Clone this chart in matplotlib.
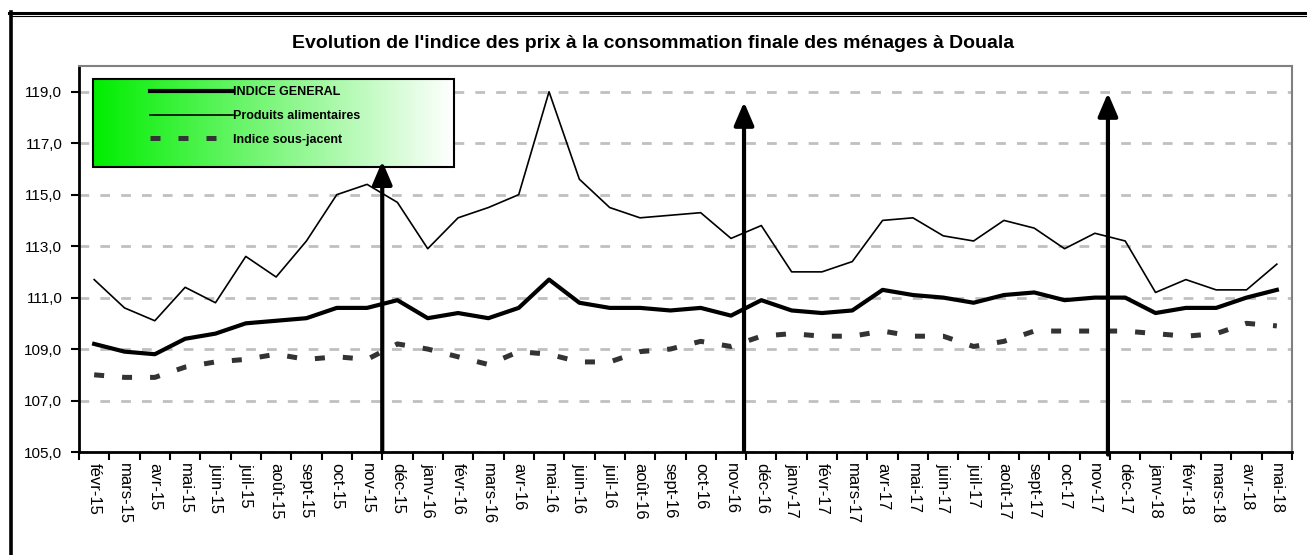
import numpy as np
import matplotlib as mpl
mpl.use('Agg')
import matplotlib.pyplot as plt
from matplotlib.colors import LinearSegmentedColormap
from matplotlib.patches import Rectangle
from matplotlib.lines import Line2D
from matplotlib.ticker import FixedLocator, FuncFormatter

plt.rcParams['font.family'] = ['Liberation Sans', 'DejaVu Sans']

# ----------------------------------------------------------------------
# --- data

months = ['févr-15', 'mars-15', 'avr-15', 'mai-15', 'juin-15', 'juil-15', 'août-15', 'sept-15',
          'oct-15', 'nov-15', 'déc-15', 'janv-16', 'févr-16', 'mars-16', 'avr-16', 'mai-16',
          'juin-16', 'juil-16', 'août-16', 'sept-16', 'oct-16', 'nov-16', 'déc-16', 'janv-17',
          'févr-17', 'mars-17', 'avr-17', 'mai-17', 'juin-17', 'juil-17', 'août-17', 'sept-17',
          'oct-17', 'nov-17', 'déc-17', 'janv-18', 'févr-18', 'mars-18', 'avr-18', 'mai-18']

indice_general = [109.2, 108.9, 108.8, 109.4, 109.6, 110.0, 110.1, 110.2, 110.6, 110.6,
                  110.9, 110.2, 110.4, 110.2, 110.6, 111.7, 110.8, 110.6, 110.6, 110.5,
                  110.6, 110.3, 110.9, 110.5, 110.4, 110.5, 111.3, 111.1, 111.0, 110.8,
                  111.1, 111.2, 110.9, 111.0, 111.0, 110.4, 110.6, 110.6, 111.0, 111.3]

produits_alimentaires = [111.7, 110.6, 110.1, 111.4, 110.8, 112.6, 111.8, 113.2, 115.0, 115.4,
                         114.7, 112.9, 114.1, 114.5, 115.0, 119.0, 115.6, 114.5, 114.1, 114.2,
                         114.3, 113.3, 113.8, 112.0, 112.0, 112.4, 114.0, 114.1, 113.4, 113.2,
                         114.0, 113.7, 112.9, 113.5, 113.2, 111.2, 111.7, 111.3, 111.3, 112.3]

indice_sous_jacent = [108.0, 107.9, 107.9, 108.3, 108.5, 108.6, 108.8, 108.6, 108.7, 108.6,
                      109.2, 109.0, 108.7, 108.4, 108.9, 108.8, 108.5, 108.5, 108.9, 109.0,
                      109.3, 109.1, 109.5, 109.6, 109.5, 109.5, 109.7, 109.5, 109.5, 109.1,
                      109.3, 109.7, 109.7, 109.7, 109.7, 109.6, 109.5, 109.6, 110.0, 109.9]

# arrows marking the turn of each year (category position, bottom, tip)
arrow_x = [9.5, 21.43, 33.43]
arrow_base = [105.0, 105.05, 104.9]
arrow_tip = [116.3, 118.6, 118.95]

title = "Evolution de l'indice des prix à la consommation finale des ménages à Douala"

# ----------------------------------------------------------------------

W, H = 1307, 555
fig = plt.figure(figsize=(W / 100, H / 100), dpi=100)
ax = fig.add_axes([79 / W, 1 - 452 / H, (1292 - 79) / W, (452 - 66) / H])

x = np.arange(len(months))

ax.plot(x, indice_general, color='black', lw=3.0, label='INDICE GENERAL', zorder=3)
ax.plot(x, produits_alimentaires, color='black', lw=1.2, label='Produits alimentaires', zorder=3)
ax.plot(x, indice_sous_jacent, color='#333333', lw=3.6, dashes=(2.0, 3.6), dash_capstyle='butt',
        label='Indice sous-jacent', zorder=2)

for xa, y0, y1 in zip(arrow_x, arrow_base, arrow_tip):
    ax.annotate('', xy=(xa, y1), xytext=(xa, y0), annotation_clip=False, zorder=7,
                arrowprops=dict(arrowstyle='-|>,head_length=0.7,head_width=0.3', lw=3,
                                color='black', shrinkA=0, shrinkB=0, mutation_scale=20))

# --- axes cosmetics
ax.set_yticks(np.arange(105, 120, 2))
ax.yaxis.set_major_formatter(FuncFormatter(lambda v, p: f'{v:.1f}'.replace('.', ',')))
ax.tick_params(axis='y', direction='out', length=6, width=1.5, labelsize=11, pad=6)
ax.set_xticks(x)
ax.set_xticklabels(months, rotation=-90, fontsize=12)
ax.xaxis.set_minor_locator(FixedLocator(np.arange(-0.5, len(months), 1)))
ax.tick_params(axis='x', which='major', length=0, pad=8)
ax.tick_params(axis='x', which='minor', direction='out', length=6, width=1.5)

ax.grid(axis='y', color='#c0c0c0', lw=2, dashes=(3.5, 4))
ax.set_axisbelow(True)
for s in ['top', 'right']:
    ax.spines[s].set_color('#808080')
    ax.spines[s].set_linewidth(1.5)
for s in ['left', 'bottom']:
    ax.spines[s].set_color('black')
    ax.spines[s].set_linewidth(2)

# --- legend with a green-to-white gradient behind it
lx0, lx1 = (93 - 79) / 1213, (454 - 79) / 1213
ly0, ly1 = (452 - 167) / 386, (452 - 79) / 386
cmap = LinearSegmentedColormap.from_list('g', ['#00ee00', '#ffffff'])
ax.imshow(np.linspace(0, 1, 256)[None, :], cmap=cmap, aspect='auto',
          extent=[lx0, lx1, ly0, ly1], transform=ax.transAxes, zorder=4)
ax.add_patch(Rectangle((lx0, ly0), lx1 - lx0, ly1 - ly0, transform=ax.transAxes,
                       fill=False, ec='black', lw=1.5, zorder=4.5))
leg = ax.legend(loc='upper left', bbox_to_anchor=((150 - 79) / 1213, (452 - 86) / 386),
                frameon=False, borderpad=0, borderaxespad=0, handlelength=6.6,
                handletextpad=0.05, labelspacing=0.95, prop={'weight': 'bold', 'size': 9})
leg.set_zorder(5)

ax.set_xlim(-0.5, len(months) - 0.5)
ax.set_ylim(105, 120)

# --- title and outer frame
fig.text(0.5, 1 - 44 / H, title, ha='center', va='center', fontsize=14, weight='bold')
fig.add_artist(Line2D([9 / W, 1], [1 - 12.5 / H] * 2, color='black', lw=2.2))
fig.add_artist(Line2D([12 / W, 1], [1 - 16 / H] * 2, color='black', lw=0.8))
fig.add_artist(Line2D([10.5 / W] * 2, [0, 1 - 12 / H], color='black', lw=2.6))

fig.savefig('out.png', dpi=100)
